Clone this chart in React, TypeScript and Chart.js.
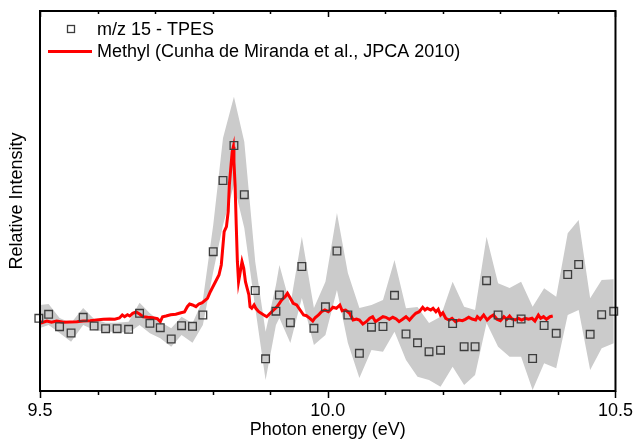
import { useEffect, useRef } from "react";
import { Chart, registerables } from "chart.js";

Chart.register(...registerables);

// ---- Data ----
const tpesEnergy = [
  9.498, 9.515, 9.534, 9.554, 9.575, 9.594, 9.614, 9.634, 9.654, 9.673, 9.691, 9.709, 9.728, 9.746,
  9.765, 9.783, 9.801, 9.818, 9.837, 9.855, 9.874, 9.892, 9.91, 9.916, 9.935, 9.955, 9.976, 9.996,
  10.016, 10.035, 10.055, 10.076, 10.096, 10.116, 10.136, 10.156, 10.176, 10.196, 10.217, 10.237,
  10.256, 10.276, 10.296, 10.316, 10.336, 10.356, 10.376, 10.397, 10.417, 10.436, 10.456, 10.476,
  10.497,
];

const tpesIntensity = [
  0.737, 0.777, 0.653, 0.59, 0.747, 0.66, 0.633, 0.633, 0.627, 0.787, 0.687, 0.643, 0.53, 0.663,
  0.657, 0.77, 1.403, 2.115, 2.465, 1.973, 1.015, 0.332, 0.808, 0.97, 0.693, 1.255, 0.637, 0.852,
  1.41, 0.77, 0.387, 0.648, 0.655, 0.967, 0.58, 0.492, 0.403, 0.418, 0.685, 0.453, 0.453, 1.113,
  0.77, 0.692, 0.73, 0.335, 0.665, 0.587, 1.175, 1.275, 0.577, 0.773, 0.807,
];

const tpesUpper = [
  0.87, 0.88, 0.74, 0.69, 0.84, 0.73, 0.693, 0.693, 0.703, 0.893, 0.787, 0.703, 0.637, 0.753,
  0.687, 0.92, 1.67, 2.54, 2.953, 2.503, 1.303, 0.603, 1.07, 1.27, 0.87, 1.553, 0.84, 1.103, 1.79,
  1.19, 0.84, 0.87, 0.92, 1.32, 0.837, 0.85, 0.69, 0.753, 1.103, 0.853, 0.82, 1.553, 1.087, 1.04,
  1.103, 0.853, 1.037, 0.953, 1.587, 1.72, 0.937, 1.12, 1.127,
];

const tpesLower = [
  0.637, 0.67, 0.59, 0.503, 0.67, 0.62, 0.603, 0.603, 0.593, 0.67, 0.587, 0.537, 0.453, 0.57,
  0.493, 0.67, 1.203, 1.67, 2.07, 1.64, 0.84, 0.12, 0.67, 0.74, 0.49, 0.94, 0.47, 0.57, 1.02, 0.49,
  0.14, 0.42, 0.403, 0.603, 0.32, 0.153, 0.12, 0.053, 0.253, 0.07, 0.17, 0.69, 0.453, 0.353, 0.353,
  0.02, 0.287, 0.237, 0.77, 0.82, 0.22, 0.437, 0.487,
];

const methylCurve: [number, number][] = [
  [9.499, 0.713], [9.503, 0.693], [9.512, 0.71], [9.52, 0.697], [9.529, 0.71], [9.541, 0.697],
  [9.552, 0.7], [9.564, 0.703], [9.575, 0.71], [9.587, 0.713], [9.598, 0.72], [9.61, 0.727],
  [9.621, 0.73], [9.63, 0.727], [9.638, 0.74], [9.643, 0.77], [9.647, 0.753], [9.652, 0.773],
  [9.656, 0.76], [9.661, 0.787], [9.667, 0.8], [9.673, 0.78], [9.679, 0.753], [9.687, 0.747],
  [9.696, 0.743], [9.704, 0.733], [9.709, 0.703], [9.713, 0.753], [9.719, 0.76], [9.727, 0.773],
  [9.736, 0.777], [9.745, 0.793], [9.751, 0.8], [9.756, 0.853], [9.76, 0.88], [9.765, 0.87],
  [9.771, 0.853], [9.776, 0.88], [9.782, 0.893], [9.791, 0.937], [9.796, 1.003], [9.802, 1.07],
  [9.811, 1.17], [9.815, 1.27], [9.818, 1.47], [9.82, 1.603], [9.824, 1.653], [9.827, 1.803],
  [9.829, 2.07], [9.832, 2.27], [9.834, 2.403], [9.836, 2.453], [9.837, 2.303], [9.839, 2.07],
  [9.841, 1.67], [9.843, 1.303], [9.845, 1.103], [9.848, 1.203], [9.851, 1.303], [9.854, 1.237],
  [9.857, 1.103], [9.86, 1.037], [9.863, 0.97], [9.865, 0.853], [9.868, 0.837], [9.872, 0.87],
  [9.875, 0.837], [9.88, 0.803], [9.889, 0.77], [9.894, 0.753], [9.9, 0.787], [9.906, 0.82],
  [9.912, 0.853], [9.916, 0.887], [9.92, 0.92], [9.926, 0.953], [9.93, 0.987], [9.935, 0.937],
  [9.94, 0.887], [9.946, 0.87], [9.952, 0.82], [9.958, 0.77], [9.963, 0.763], [9.969, 0.737],
  [9.974, 0.71], [9.978, 0.743], [9.984, 0.77], [9.989, 0.803], [9.995, 0.82], [10.001, 0.803],
  [10.006, 0.827], [10.009, 0.847], [10.015, 0.837], [10.021, 0.87], [10.025, 0.813],
  [10.031, 0.82], [10.038, 0.787], [10.044, 0.72], [10.05, 0.73], [10.055, 0.72], [10.061, 0.68],
  [10.067, 0.703], [10.073, 0.737], [10.078, 0.753], [10.083, 0.703], [10.089, 0.727],
  [10.096, 0.753], [10.101, 0.747], [10.107, 0.727], [10.113, 0.747], [10.119, 0.73],
  [10.124, 0.703], [10.13, 0.727], [10.136, 0.753], [10.142, 0.72], [10.147, 0.753],
  [10.153, 0.787], [10.159, 0.803], [10.165, 0.847], [10.169, 0.82], [10.173, 0.837],
  [10.179, 0.82], [10.183, 0.837], [10.188, 0.803], [10.192, 0.827], [10.196, 0.77], [10.2, 0.793],
  [10.205, 0.737], [10.211, 0.72], [10.216, 0.737], [10.222, 0.703], [10.228, 0.72],
  [10.234, 0.713], [10.239, 0.727], [10.245, 0.747], [10.251, 0.73], [10.257, 0.72],
  [10.26, 0.753], [10.265, 0.727], [10.271, 0.77], [10.277, 0.72], [10.283, 0.753],
  [10.288, 0.77], [10.294, 0.727], [10.3, 0.713], [10.306, 0.753], [10.311, 0.727],
  [10.316, 0.76], [10.32, 0.73], [10.326, 0.72], [10.331, 0.737], [10.337, 0.72], [10.343, 0.737],
  [10.349, 0.727], [10.355, 0.737], [10.36, 0.71], [10.366, 0.77], [10.37, 0.737], [10.375, 0.753],
  [10.38, 0.727], [10.386, 0.753], [10.391, 0.76],
];

const xTickValues = [9.5, 10.0, 10.5];
const xMinorStep = 0.1;
const legendLabels = ["m/z 15 - TPES", "Methyl (Cunha de Miranda et al., JPCA 2010)"];
const xTitle = "Photon energy (eV)";
const yTitle = "Relative Intensity";

const FONT = '"Liberation Sans", Arial, sans-serif';

const framePlugin = {
  id: "frameAndTicks",
  afterDatasetsDraw(chart: any) {
    const { ctx, chartArea } = chart;
    const xs = chart.scales.x;
    const { left, right, top, bottom } = chartArea;
    ctx.save();
    ctx.strokeStyle = "#000";
    ctx.lineWidth = 2;
    ctx.strokeRect(left, top, right - left, bottom - top);
    ctx.lineWidth = 1.5;
    const n = Math.round((xs.max - xs.min) / xMinorStep);
    for (let i = 0; i <= n; i++) {
      const v = xs.min + i * xMinorStep;
      const px = Math.round(xs.getPixelForValue(v)) + 0.5;
      const major = xTickValues.some((t) => Math.abs(t - v) < 1e-6);
      ctx.beginPath();
      ctx.moveTo(px, bottom);
      ctx.lineTo(px, bottom + (major ? 7 : 4));
      ctx.moveTo(px, top);
      ctx.lineTo(px, top + (major ? 6 : 3));
      ctx.stroke();
    }
    ctx.restore();
  },
  afterDraw(chart: any) {
    const { ctx } = chart;
    ctx.save();
    ctx.font = `18px ${FONT}`;
    ctx.fillStyle = "#000";
    ctx.textBaseline = "middle";
    ctx.textAlign = "left";
    // TPES marker
    ctx.strokeStyle = "#3c3c3c";
    ctx.lineWidth = 1.3;
    ctx.strokeRect(67.5, 25.5, 7, 7);
    ctx.fillText(legendLabels[0], 97, 30);
    // Methyl line
    ctx.strokeStyle = "#ff0000";
    ctx.lineWidth = 3;
    ctx.beginPath();
    ctx.moveTo(48, 51.5);
    ctx.lineTo(92, 51.5);
    ctx.stroke();
    ctx.fillText(legendLabels[1], 97, 52);
    ctx.restore();
  },
};

export default function App() {
  const canvasRef = useRef<HTMLCanvasElement | null>(null);

  useEffect(() => {
    if (!canvasRef.current) return;
    const chart = new Chart(canvasRef.current, {
      type: "line",
      data: {
        datasets: [
          {
            label: legendLabels[0],
            data: tpesEnergy.map((x, i) => ({ x, y: tpesIntensity[i] })),
            showLine: false,
            pointStyle: "rect",
            pointRadius: 5.4,
            pointBorderWidth: 1.3,
            pointBorderColor: "#3c3c3c",
            pointBackgroundColor: "rgba(0,0,0,0)",
            clip: false as any,
          },
          {
            label: legendLabels[1],
            data: methylCurve.map(([x, y]) => ({ x, y })),
            borderColor: "#ff0000",
            borderWidth: 3,
            pointRadius: 0,
            tension: 0,
            fill: false,
          },
          {
            label: "upper",
            data: tpesEnergy.map((x, i) => ({ x, y: tpesUpper[i] })),
            borderColor: "rgba(0,0,0,0)",
            borderWidth: 0,
            pointRadius: 0,
            tension: 0,
            fill: "+1",
            backgroundColor: "#cbcbcb",
          },
          {
            label: "lower",
            data: tpesEnergy.map((x, i) => ({ x, y: tpesLower[i] })),
            borderColor: "rgba(0,0,0,0)",
            borderWidth: 0,
            pointRadius: 0,
            tension: 0,
            fill: false,
          },
        ],
      },
      options: {
        animation: false,
        responsive: false,
        devicePixelRatio: 1,
        events: [],
        layout: { padding: { top: 11, right: 21, left: 0, bottom: 0 } },
        plugins: { legend: { display: false }, tooltip: { enabled: false } },
        scales: {
          x: {
            type: "linear",
            min: 9.5,
            max: 10.5,
            afterFit: (s: any) => {
              s.height = 50;
            },
            afterBuildTicks: (s: any) => {
              s.ticks = xTickValues.map((v) => ({ value: v }));
            },
            grid: { display: false, drawTicks: false },
            border: { display: false },
            ticks: {
              padding: 9,
              color: "#000",
              autoSkip: false,
              maxRotation: 0,
              font: { family: FONT, size: 18 },
              callback: (v: any) => Number(v).toFixed(1),
            },
            title: {
              display: true,
              text: xTitle,
              color: "#000",
              font: { family: FONT, size: 18 },
              padding: { top: 0, bottom: 0 },
            },
          },
          y: {
            type: "linear",
            min: 0.01,
            max: 3.81,
            afterFit: (s: any) => {
              s.width = 40;
            },
            grid: { display: false, drawTicks: false },
            border: { display: false },
            ticks: { display: false },
            title: {
              display: true,
              text: yTitle,
              color: "#000",
              font: { family: FONT, size: 18 },
              padding: { top: 6, bottom: 0 },
            },
          },
        },
      },
      plugins: [framePlugin],
    } as any);
    return () => chart.destroy();
  }, []);

  return (
    <div style={{ position: "absolute", left: 0, top: 0, width: 642, height: 441, background: "#fff" }}>
      <canvas ref={canvasRef} width={642} height={441} style={{ display: "block" }} />
    </div>
  );
}
